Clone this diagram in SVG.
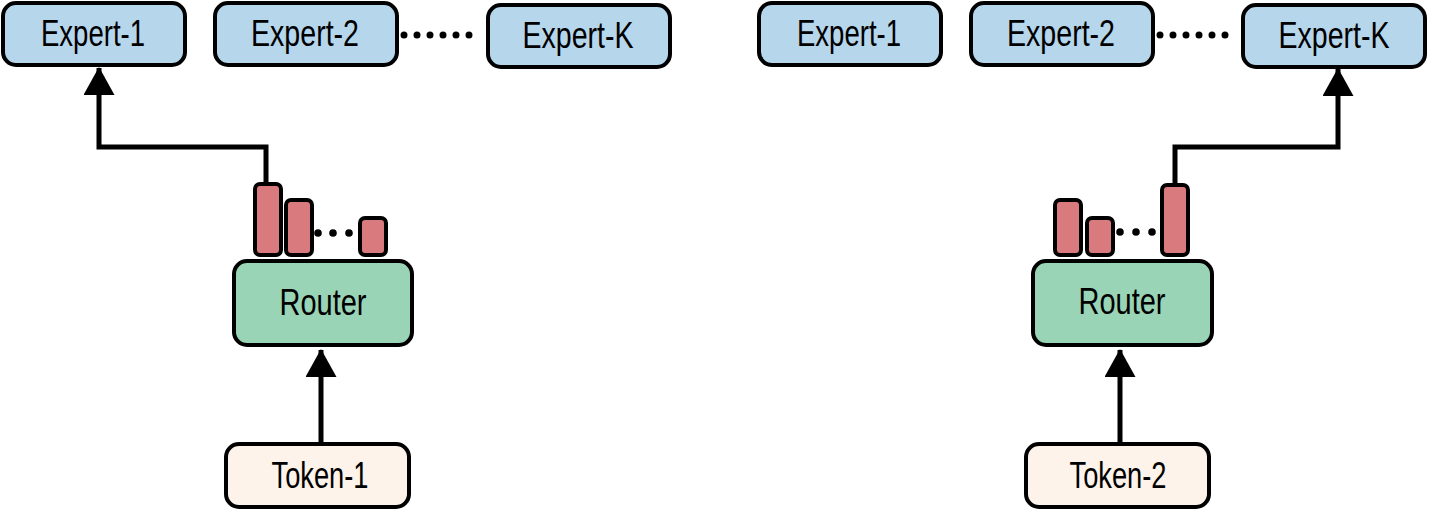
<svg xmlns="http://www.w3.org/2000/svg" width="1429" height="509" viewBox="0 0 1429 509">
<style>
.expert{fill:#b6d6ec;stroke:#000;stroke-width:4}
.router{fill:#99d4b6;stroke:#000;stroke-width:4}
.token{fill:#fdf3ea;stroke:#000;stroke-width:4}
.bar{fill:#d97b7e;stroke:#000;stroke-width:4}
.lbl{font-family:"Liberation Sans",Arial,sans-serif;font-size:36px;fill:#000;text-anchor:middle}
.wire{fill:none;stroke:#000;stroke-width:5}
.dots{fill:none;stroke:#000;stroke-width:7;stroke-linecap:round;stroke-dasharray:0 13}
</style>
<defs>
<marker id="ah" viewBox="0 0 28 31" refX="27" refY="15.5" markerWidth="28" markerHeight="31" markerUnits="userSpaceOnUse" orient="auto">
<path d="M0,0 L28,15.5 L0,31 Z" fill="#000"/>
</marker>
</defs>
<g id="connectors">
<path class="wire" d="M266,184 V147 H99 V68" marker-end="url(#ah)"/>
<path class="wire" d="M321,443 V350" marker-end="url(#ah)"/>
<path class="wire" d="M1175,184 V147 H1338 V69" marker-end="url(#ah)"/>
<path class="wire" d="M1120,443 V350" marker-end="url(#ah)"/>
<line class="dots" x1="404" y1="35" x2="482" y2="35"/>
<line class="dots" x1="1160" y1="35" x2="1238" y2="35"/>
</g>
<g id="L-expert-1"><rect class="expert" x="3" y="3" width="182" height="62" rx="13"/><text class="lbl" x="93" y="46" textLength="104" lengthAdjust="spacingAndGlyphs">Expert-1</text></g>
<g id="L-expert-2"><rect class="expert" x="215" y="3" width="182" height="62" rx="13"/><text class="lbl" x="305" y="46" textLength="108" lengthAdjust="spacingAndGlyphs">Expert-2</text></g>
<g id="L-expert-K"><rect class="expert" x="488" y="5" width="182" height="62" rx="13"/><text class="lbl" x="578" y="48" textLength="111" lengthAdjust="spacingAndGlyphs">Expert-K</text></g>
<g id="L-router">
<rect class="bar" x="255" y="184" width="26" height="71" rx="5"/>
<rect class="bar" x="286" y="200" width="26" height="55" rx="5"/>
<circle cx="318" cy="233" r="3.8"/><circle cx="333" cy="233" r="3.8"/><circle cx="349" cy="233" r="3.8"/>
<rect class="bar" x="360" y="218" width="26" height="37" rx="5"/>
<rect class="router" x="234" y="261" width="178" height="84" rx="13"/>
<text class="lbl" x="323" y="315" textLength="87" lengthAdjust="spacingAndGlyphs">Router</text>
</g>
<g id="L-token-1"><rect class="token" x="226" y="444" width="183" height="63" rx="13"/><text class="lbl" x="320" y="488" textLength="97" lengthAdjust="spacingAndGlyphs">Token-1</text></g>
<g id="R-expert-1"><rect class="expert" x="759" y="3" width="182" height="62" rx="13"/><text class="lbl" x="849" y="46" textLength="104" lengthAdjust="spacingAndGlyphs">Expert-1</text></g>
<g id="R-expert-2"><rect class="expert" x="971" y="3" width="182" height="62" rx="13"/><text class="lbl" x="1061" y="46" textLength="108" lengthAdjust="spacingAndGlyphs">Expert-2</text></g>
<g id="R-expert-K"><rect class="expert" x="1243" y="5" width="182" height="62" rx="13"/><text class="lbl" x="1334" y="48" textLength="111" lengthAdjust="spacingAndGlyphs">Expert-K</text></g>
<g id="R-router">
<rect class="bar" x="1055" y="200" width="26" height="55" rx="5"/>
<rect class="bar" x="1087" y="218" width="26" height="37" rx="5"/>
<circle cx="1120" cy="232" r="3.8"/><circle cx="1136" cy="232" r="3.8"/><circle cx="1152" cy="232" r="3.8"/>
<rect class="bar" x="1162" y="185" width="26" height="70" rx="5"/>
<rect class="router" x="1033" y="261" width="179" height="84" rx="13"/>
<text class="lbl" x="1122" y="314" textLength="87" lengthAdjust="spacingAndGlyphs">Router</text>
</g>
<g id="R-token-2"><rect class="token" x="1026" y="444" width="183" height="63" rx="13"/><text class="lbl" x="1118" y="488" textLength="97" lengthAdjust="spacingAndGlyphs">Token-2</text></g>
</svg>
